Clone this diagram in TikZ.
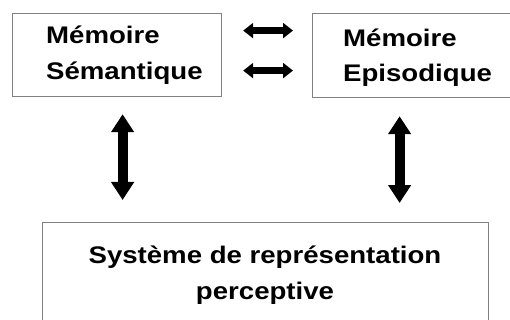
\documentclass[tikz,border=0pt]{standalone}
\usepackage{fontspec}
\newfontfamily\lblfont{Liberation Sans}[FakeStretch=1.15]
\usetikzlibrary{arrows.meta}
\definecolor{boxgray}{RGB}{128,128,128}
\tikzset{
  memobox/.style={draw=boxgray, line width=1.2pt, inner sep=0pt, anchor=north west},
  lbl/.style={font=\lblfont\bfseries\fontsize{24}{35.3}\selectfont, inner sep=0pt, text=black},
  harrow/.style={line width=6.5pt, {Triangle[width=15pt,length=10pt]}-{Triangle[width=15pt,length=10pt]}},
  varrow/.style={line width=10pt, {Triangle[width=22pt,length=18pt]}-{Triangle[width=22pt,length=18pt]}}
}
\begin{document}
\begin{tikzpicture}[x=1pt,y=1pt]
\useasboundingbox (0,0) rectangle (510,-320);
\fill[white] (0,0) rectangle (510,-320);
\node[memobox, minimum width=209pt, minimum height=83pt] (sem) at (12,-13) {};
\node[memobox, minimum width=203pt, minimum height=84pt] (epi) at (312,-13) {};
\node[memobox, minimum width=446pt, minimum height=110pt] (sys) at (42,-222) {};
\node[lbl, anchor=base west, align=left] (semtxt) at (46,-79.3) {Mémoire\\Sémantique};
\node[lbl, anchor=base west, align=left] (epitxt) at (343,-81.7) {Mémoire\\Episodique};
\node[lbl, anchor=base, align=center] (systxt) at (265,-299) {Système de représentation\\perceptive};
\draw[harrow, shorten <=21pt, shorten >=19pt] ([yshift=24.5pt]sem.east) -- ([yshift=24.5pt]sem.east -| epi.west);
\draw[harrow, shorten <=21pt, shorten >=19pt] ([yshift=-15.5pt]sem.east) -- ([yshift=-15.5pt]sem.east -| epi.west);
\draw[varrow, shorten <=17pt, shorten >=22pt] ([xshift=5.5pt]sem.south) -- ([xshift=5.5pt]sem.south |- sys.north);
\draw[varrow, shorten <=18pt, shorten >=19pt] ([xshift=-14.5pt]epi.south) -- ([xshift=-14.5pt]epi.south |- sys.north);
\end{tikzpicture}
\end{document}
